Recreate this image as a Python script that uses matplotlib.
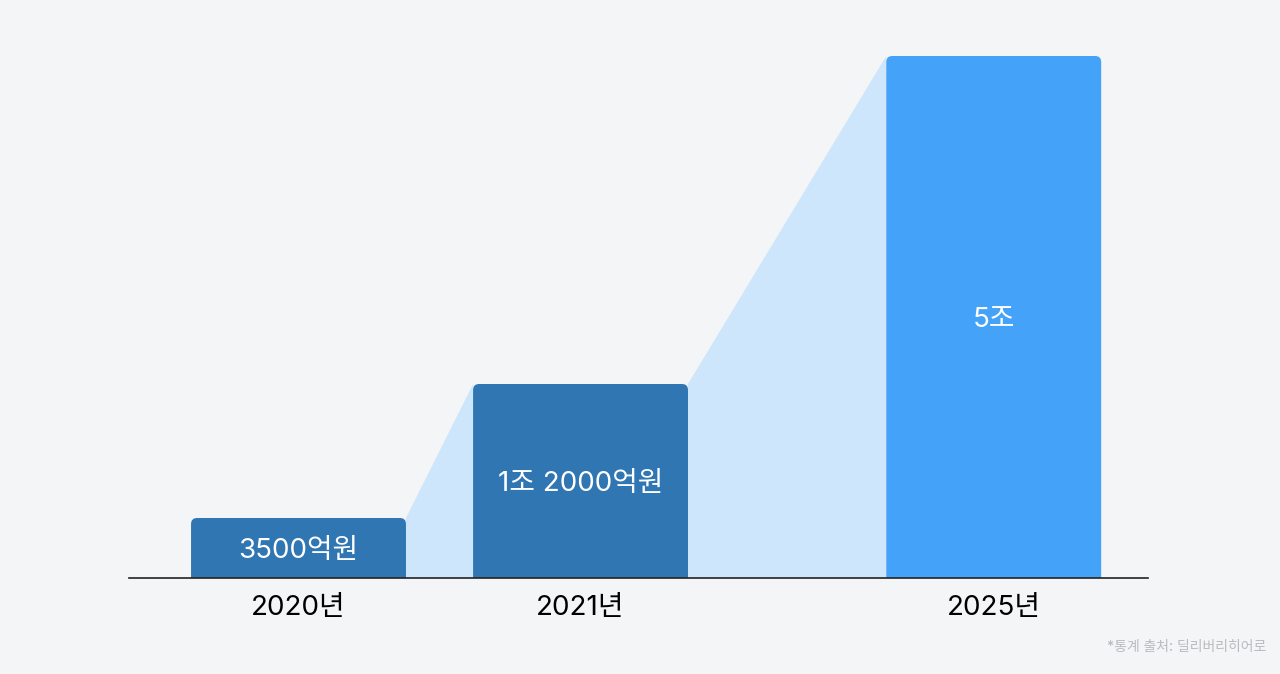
import matplotlib.pyplot as plt
from matplotlib.patches import FancyBboxPatch

plt.rcParams['font.family'] = ['Inter', 'Noto Sans CJK KR', 'DejaVu Sans']

# data
years = ['2020년', '2021년', '2025년']
labels = ['3500억원', '1조 2000억원', '5조']
heights = [60, 194, 522]          # bar heights as drawn (not to scale)
xpos = [0, 1, 2.465]
colors = ['#2f76b3', '#2f76b3', '#44a2f8']
fill_color = '#cde6fb'
bg = '#f4f5f7'

w = 0.762
aspect = 282.0   # px per x unit vs 1 px per y unit

fig = plt.figure(figsize=(12.8, 6.74), dpi=100, facecolor=bg)
ax = fig.add_axes([129/1280, (674-578)/674, (1148-129)/1280, 578/674])
ax.set_facecolor(bg)
ax.set_xlim(-0.601, 3.012)
ax.set_ylim(0, 578)

# light area connecting bar tops
for i in range(len(xpos) - 1):
    x0 = xpos[i] + w/2
    x1 = xpos[i+1] - w/2
    ax.fill([x0, x0, x1, x1], [0, heights[i], heights[i+1], 0],
            color=fill_color, lw=0, zorder=1)

for x, h, c, lab in zip(xpos, heights, colors, labels):
    p = FancyBboxPatch((x - w/2, -20), w, h + 20,
                       boxstyle='round,pad=0,rounding_size=%f' % (6/aspect),
                       mutation_aspect=aspect, fc=c, ec='none', zorder=2)
    ax.add_patch(p)
    ax.text(x, h/2 - 3, lab, color='white', fontsize=20, ha='center', va='center', zorder=3)

ax.axhline(0, color='#222222', lw=1.2, zorder=4, clip_on=False)

ax.set_xticks(xpos)
ax.set_xticklabels(years, fontsize=20, color='black')
ax.tick_params(axis='x', length=0, pad=12)
ax.set_yticks([])
for s in ax.spines.values():
    s.set_visible(False)

fig.text(1266/1280, 1 - 647/674, '*통계 출처: 딜리버리히어로', color='#b9bbbe',
         fontsize=10, ha='right', va='center', fontweight='medium')

fig.savefig('out.png', dpi=100, facecolor=bg)
